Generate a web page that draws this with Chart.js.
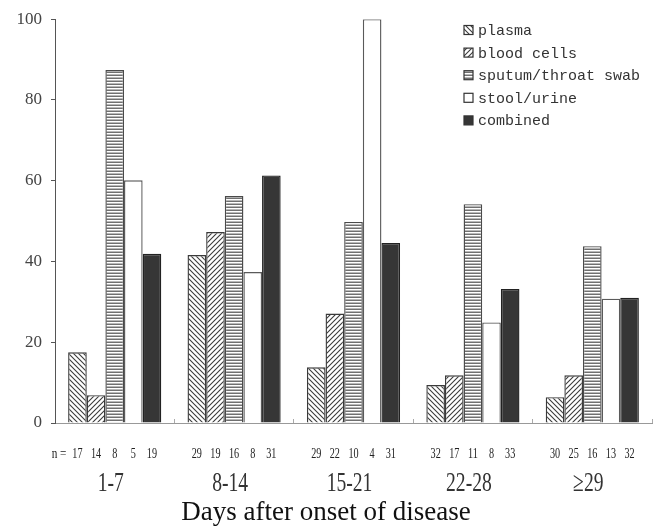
<!DOCTYPE html>
<html><head><meta charset="utf-8">
<script src="https://cdn.jsdelivr.net/npm/chart.js@4/dist/chart.umd.min.js"></script>
<style>html,body{margin:0;padding:0;background:#fff}#wrap{width:660px;height:529px}</style>
</head><body><div id="wrap"><canvas id="c" width="660" height="529"></canvas></div>
<script>
// ---- data ----
const categories = ['1-7', '8-14', '15-21', '22-28', '≥29'];
const seriesNames = ['plasma', 'blood cells', 'sputum/throat swab', 'stool/urine', 'combined'];
const plasma   = [17.5, 41.6, 13.8,  9.4,  6.4];
const blood    = [ 6.9, 47.3, 27.1, 11.8, 11.8];
const sputum   = [87.4, 56.2, 49.8, 54.2, 43.8];
const stool    = [60.1, 37.4, 100.0, 24.9, 30.8];
const combined = [41.9, 61.3, 44.6, 33.2, 31.0];
const nPlasma   = [17, 29, 29, 32, 30];
const nBlood    = [14, 19, 22, 17, 25];
const nSputum   = [ 8, 16, 10, 11, 16];
const nStool    = [ 5,  8,  4,  8, 13];
const nCombined = [19, 31, 31, 33, 32];
const yTickValues = [0, 20, 40, 60, 80, 100];
const xTitle = 'Days after onset of disease';
const nPrefix = 'n =';

// ---- patterns ----
function diagPattern(back) {
  const s = 5, c = document.createElement('canvas'); c.width = c.height = s;
  const x = c.getContext('2d');
  x.fillStyle = '#fff'; x.fillRect(0, 0, s, s);
  x.strokeStyle = '#3c3c3c'; x.lineWidth = 1.1;
  x.beginPath();
  for (const o of [-s, 0, s]) {
    if (back) { x.moveTo(o - 1, -1); x.lineTo(o + s + 1, s + 1); }
    else { x.moveTo(o + s + 1, -1); x.lineTo(o - 1, s + 1); }
  }
  x.stroke();
  return x.createPattern(c, 'repeat');
}
function hPattern() {
  const c = document.createElement('canvas'); c.width = 4; c.height = 3;
  const x = c.getContext('2d');
  x.fillStyle = '#707070'; x.fillRect(0, 0, 4, 1);
  x.fillStyle = '#ffffff'; x.fillRect(0, 1, 4, 1);
  x.fillStyle = '#b8b8b8'; x.fillRect(0, 2, 4, 1);
  return x.createPattern(c, 'repeat');
}
const fills = [diagPattern(true), diagPattern(false), hPattern(), '#ffffff', '#363636'];
const borders = ['#3a3a3a', '#3a3a3a', '#4a4a4a', '#5a5a5a', '#222222'];
const seriesValues = [plasma, blood, sputum, stool, combined];
const seriesN = [nPlasma, nBlood, nSputum, nStool, nCombined];

// ---- plugins ----
const extras = {
  id: 'extras',
  afterDraw(chart) {
    const ctx = chart.ctx, xs = chart.scales.x, area = chart.chartArea;
    // n counts under each bar
    ctx.save();
    ctx.fillStyle = '#222';
    ctx.font = '15px "Liberation Serif"';
    ctx.textAlign = 'center'; ctx.textBaseline = 'alphabetic';
    const nBase = area.bottom + 35;
    chart.data.datasets.forEach((ds, d) => {
      const meta = chart.getDatasetMeta(d);
      meta.data.forEach((bar, i) => {
        ctx.save(); ctx.translate(bar.x, nBase); ctx.scale(0.68, 1);
        ctx.fillText(String(seriesN[d][i]), 0, 0); ctx.restore();
      });
    });
    const first = chart.getDatasetMeta(0).data[0];
    ctx.save(); ctx.translate(first.x - 11, nBase); ctx.scale(0.75, 1);
    ctx.textAlign = 'right'; ctx.fillText(nPrefix, 0, 0); ctx.restore();
    // category labels
    ctx.fillStyle = '#333';
    ctx.font = '28px "Liberation Serif"';
    categories.forEach((lab, i) => {
      const x = xs.getPixelForValue(i);
      ctx.save(); ctx.translate(x - 4, area.bottom + 68); ctx.scale(0.7, 1);
      ctx.fillText(lab, 0, 0); ctx.restore();
    });
    // legend
    ctx.font = '15px "Liberation Mono"';
    ctx.textAlign = 'left'; ctx.textBaseline = 'middle';
    chart.data.datasets.forEach((ds, d) => {
      const y = 30 + d * 22.6;
      ctx.fillStyle = ds.backgroundColor;
      ctx.fillRect(464, y - 4.5, 9, 9);
      ctx.strokeStyle = '#333'; ctx.lineWidth = 1.2;
      ctx.strokeRect(464, y - 4.5, 9, 9);
      ctx.fillStyle = '#333';
      ctx.fillText(ds.label, 478, y + 1);
    });
    ctx.restore();
  }
};

new Chart(document.getElementById('c'), {
  type: 'bar',
  data: {
    labels: categories,
    datasets: seriesNames.map((name, d) => ({
      label: name,
      data: seriesValues[d],
      backgroundColor: fills[d],
      borderColor: borders[d],
      borderWidth: 1.4,
      categoryPercentage: 0.78,
      barPercentage: 1.0
    }))
  },
  options: {
    responsive: false,
    animation: false,
    layout: { padding: { top: 17, right: 8, left: 0, bottom: 0 } },
    plugins: {
      legend: { display: false },
      tooltip: { enabled: false },
      title: {
        display: true, position: 'bottom', text: xTitle,
        color: '#111', padding: { top: 0, bottom: 0 },
        font: { family: '"Liberation Serif"', size: 27, weight: 'normal' }
      }
    },
    scales: {
      x: {
        ticks: { display: false },
        grid: { drawOnChartArea: false, offset: true, tickLength: -4, color: '#aaa', tickWidth: 1 },
        border: { color: '#999', width: 1 },
        afterFit(s) { s.height = 73.6; }
      },
      y: {
        min: 0, max: 100,
        afterBuildTicks(s) { s.ticks = yTickValues.map(v => ({ value: v })); },
        ticks: { color: '#444', padding: 9, font: { family: '"Liberation Serif"', size: 17 } },
        grid: { drawOnChartArea: false, tickLength: 4, color: '#555' },
        border: { color: '#555', width: 1 },
        afterFit(s) { s.width = 55; }
      }
    }
  },
  plugins: [extras]
});
</script></body></html>
